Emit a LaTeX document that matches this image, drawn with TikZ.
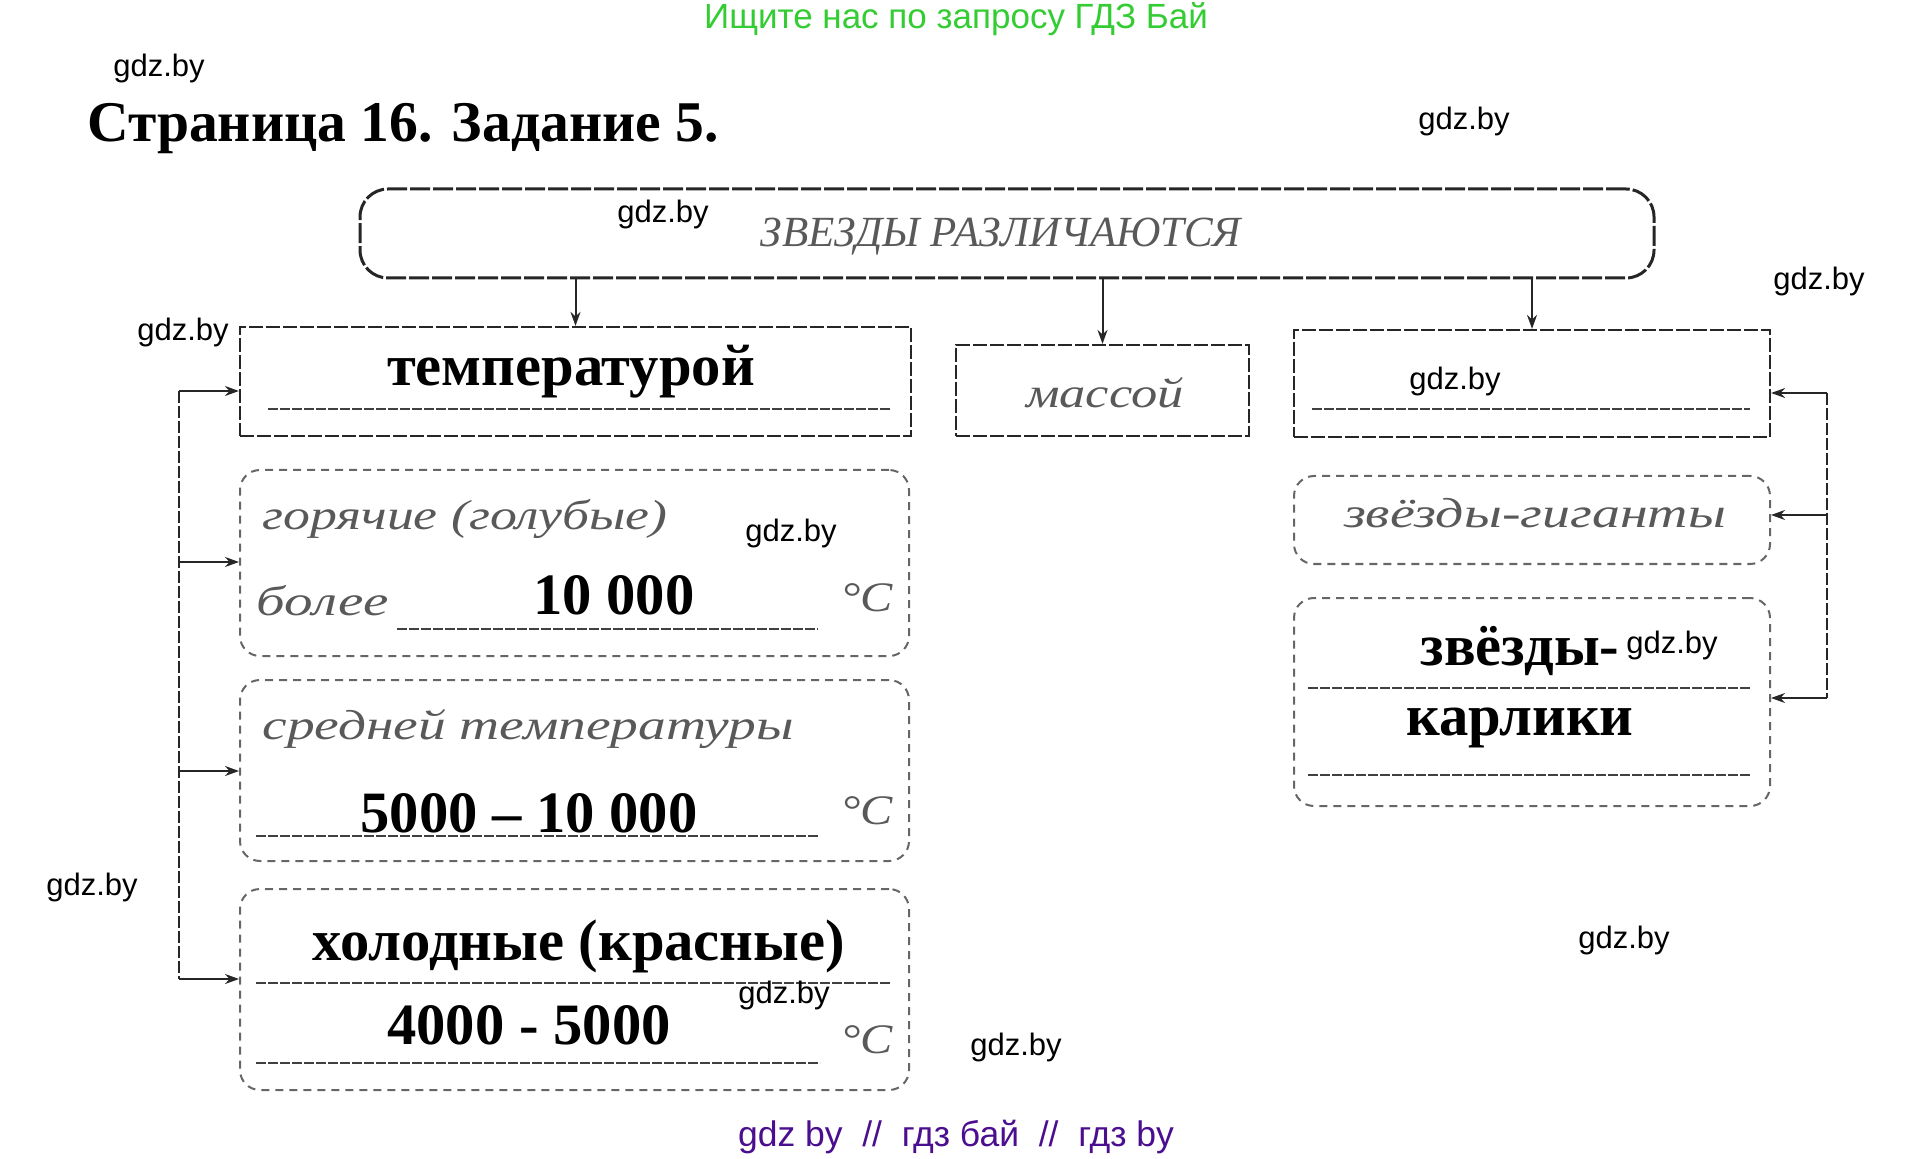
\documentclass[tikz,border=0pt]{standalone}
\usepackage{fontspec}
\setmainfont{Liberation Serif}
\newfontfamily\wmfont{Liberation Sans}
\usetikzlibrary{arrows.meta}
\definecolor{wmgreen}{HTML}{33CC33}
\definecolor{wmpurple}{HTML}{4A0E8F}
\newcommand\hwtext[2]{\scalebox{#1}[1]{#2}}
\tikzset{
  sqbox/.style={draw=black!85, line width=1.1pt, dash pattern=on 7pt off 1.5pt, inner sep=0pt},
  rbox/.style={draw=black!60, line width=1pt, rounded corners=10pt, dash pattern=on 4pt off 3pt, inner sep=0pt},
  topbox/.style={draw=black!85, line width=1.5pt, rounded corners=14pt, dash pattern=on 10pt off 1.5pt, inner sep=0pt},
  uline/.style={draw=black!75, line width=1pt, dash pattern=on 5pt off 1pt},
  printed/.style={font=\bfseries\fontsize{29.3}{31}\selectfont, text=black, inner sep=0pt},
  hand/.style={font=\itshape\fontsize{21}{23}\selectfont, text=black!65, inner sep=0pt},
  wm/.style={font=\wmfont\fontsize{15.5}{17}\selectfont, text=black, inner sep=0pt},
  arr/.style={-{Stealth[length=7pt,width=5pt]}, line width=1pt, draw=black!85},
  brk/.style={line width=1pt, draw=black!85, dash pattern=on 6pt off 1.5pt},
}
\begin{document}
\begin{tikzpicture}[x=0.5pt,y=-0.5pt]
\useasboundingbox (0,0) rectangle (1914,1159);
% header
\node[font=\wmfont\fontsize{17.5}{19}\selectfont, text=wmgreen, inner sep=0pt] (hdr) at (956,19) {Ищите нас по запросу ГДЗ Бай};
\node[font=\bfseries\fontsize{28.8}{31}\selectfont, inner sep=0pt] (title) at (403,129) {Страница 16. Задание 5.};
% boxes
\node[topbox, minimum width=647pt, minimum height=44.5pt] (top) at (1007,233.5) {};
\node[hand, font=\itshape\fontsize{21.5}{23}\selectfont] (toptxt) at (1001,237) {ЗВЕЗДЫ РАЗЛИЧАЮТСЯ};
\node[sqbox, minimum width=335.5pt, minimum height=54.5pt] (temp) at (575.5,381.5) {};
\node[sqbox, minimum width=146.5pt, minimum height=45.5pt] (mass) at (1102.5,390.5) {};
\node[sqbox, minimum width=238pt, minimum height=53.5pt] (third) at (1532,383.5) {};
\node[rbox, minimum width=334.5pt, minimum height=93pt] (hot) at (574.5,563) {};
\node[rbox, minimum width=334.5pt, minimum height=90.5pt] (med) at (574.5,770.5) {};
\node[rbox, minimum width=334.5pt, minimum height=100.5pt] (cold) at (574.5,989.5) {};
\node[rbox, minimum width=238pt, minimum height=44pt] (giant) at (1532,520) {};
\node[rbox, minimum width=238pt, minimum height=104pt] (dwarf) at (1532,702) {};
% top arrows
\draw[arr] (top.south -| temp.north) -- (temp.north);
\draw[arr] (top.south -| mass.north) -- (mass.north);
\draw[arr] (top.south -| third.north) -- (third.north);
% left bracket
\coordinate (l1) at (179,391);
\coordinate (l2) at (179,562);
\coordinate (l3) at (179,771);
\coordinate (l4) at (179,979);
\draw[brk] (l1) -- (l4);
\draw[arr] (l1) -- (l1 -| temp.west);
\draw[arr] (l2) -- (l2 -| hot.west);
\draw[arr] (l3) -- (l3 -| med.west);
\draw[arr] (l4) -- (l4 -| cold.west);
% right bracket
\coordinate (r1) at (1827,393);
\coordinate (r2) at (1827,515);
\coordinate (r3) at (1827,698);
\draw[brk] (r1) -- (r3);
\draw[arr] (r1) -- (r1 -| third.east);
\draw[arr] (r2) -- (r2 -| giant.east);
\draw[arr] (r3) -- (r3 -| dwarf.east);
% texts in boxes
\node[printed] (temptxt) at (571,372) {температурой};
\draw[uline] (268,409) -- (891,409);
\node[hand] (masstxt) at (1105,393) {\hwtext{1.25}{массой}};
\draw[uline] (1312,409) -- (1750,409);
% hot
\node[hand, anchor=west] (hot1) at (262,519) {\hwtext{1.28}{горячие (голубые)}};
\node[hand] (hot2) at (323,601) {\hwtext{1.36}{более}};
\node[printed] (hot3) at (614,595) {10 000};
\draw[uline] (397,629) -- (818,629);
\node[hand] (hot4) at (867,598) {\hwtext{1.15}{°С}};
% medium
\node[hand, anchor=west] (med1) at (262,729) {\hwtext{1.32}{средней температуры}};
\node[printed] (med2) at (529,813) {5000 – 10 000};
\draw[uline] (256,836) -- (818,836);
\node[hand] (med3) at (867,811) {\hwtext{1.15}{°С}};
% cold
\node[printed] (cold1) at (579,946) {холодные (красные)};
\draw[uline] (256,983) -- (891,983);
\node[printed] (cold2) at (529,1025) {4000 - 5000};
\draw[uline] (256,1063) -- (820,1063);
\node[hand] (cold3) at (867,1040) {\hwtext{1.15}{°С}};
% right column
\node[hand] (gianttxt) at (1535,513) {\hwtext{1.33}{звёзды-гиганты}};
\node[printed] (dw1) at (1520,651) {звёзды-};
\draw[uline] (1308,688) -- (1750,688);
\node[printed] (dw2) at (1520,728) {карлики};
\draw[uline] (1308,775) -- (1750,775);
% watermarks
\node[wm] (w1) at (159,68) {gdz.by};
\node[wm] (w2) at (1464,121) {gdz.by};
\node[wm] (w3) at (663,214) {gdz.by};
\node[wm] (w4) at (1819,281) {gdz.by};
\node[wm] (w5) at (183,332) {gdz.by};
\node[wm] (w6) at (1455,381) {gdz.by};
\node[wm] (w7) at (791,533) {gdz.by};
\node[wm] (w8) at (1672,645) {gdz.by};
\node[wm] (w9) at (92,887) {gdz.by};
\node[wm] (w10) at (784,995) {gdz.by};
\node[wm] (w11) at (1624,940) {gdz.by};
\node[wm] (w12) at (1016,1047) {gdz.by};
\node[font=\wmfont\fontsize{17.75}{19}\selectfont, text=wmpurple, inner sep=0pt] (ftr) at (956,1137) {gdz by\ \ //\ \ гдз бай\ \ //\ \ гдз by};
\end{tikzpicture}
\end{document}
